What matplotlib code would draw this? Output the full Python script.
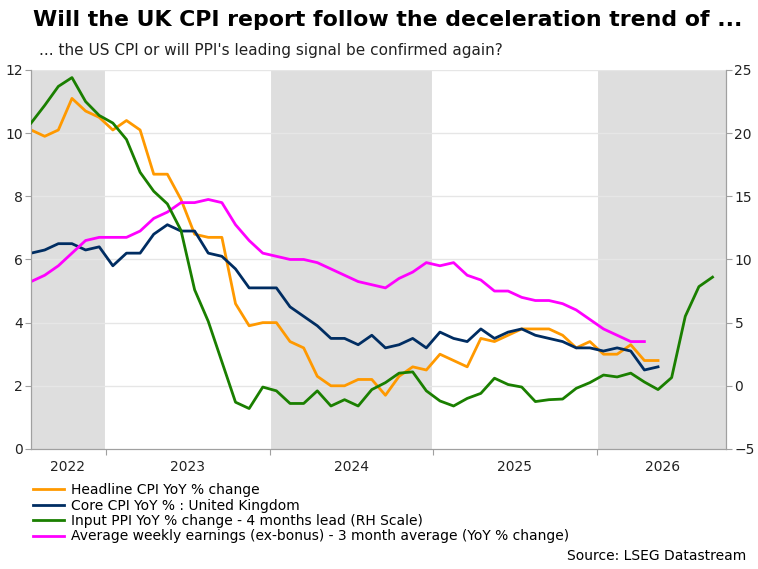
import matplotlib
matplotlib.use("Agg")
import matplotlib.pyplot as plt
from matplotlib.lines import Line2D

headline = [10.1, 9.9, 10.1, 11.1, 10.7, 10.5, 10.1, 10.4, 10.1, 8.7, 8.7, 7.9, 6.8, 6.7, 6.7, 4.6, 3.9, 4.0, 4.0, 3.4, 3.2, 2.3, 2.0, 2.0, 2.2, 2.2,
            1.7, 2.3, 2.6, 2.5, 3.0, 2.8, 2.6, 3.5, 3.4, 3.6, 3.8, 3.8, 3.8, 3.6, 3.2, 3.4, 3.0, 3.0, 3.3, 2.8, 2.8]
core = [6.2, 6.3, 6.5, 6.5, 6.3, 6.4, 5.8, 6.2, 6.2, 6.8, 7.1, 6.9, 6.9, 6.2, 6.1, 5.7, 5.1, 5.1, 5.1, 4.5, 4.2, 3.9, 3.5, 3.5, 3.3, 3.6,
        3.2, 3.3, 3.5, 3.2, 3.7, 3.5, 3.4, 3.8, 3.5, 3.7, 3.8, 3.6, 3.5, 3.4, 3.2, 3.2, 3.1, 3.2, 3.1, 2.5, 2.6]
ppi = [20.8, 22.2, 23.7, 24.4, 22.5, 21.4, 20.8, 19.5, 16.9, 15.4, 14.4, 12.3, 7.6, 5.1, 1.9, -1.3, -1.8, -0.1, -0.4, -1.4, -1.4, -0.4, -1.6, -1.1, -1.6, -0.3,
       0.25, 1.0, 1.1, -0.4, -1.2, -1.6, -1.0, -0.6, 0.6, 0.1, -0.1, -1.25, -1.1, -1.05, -0.2, 0.25, 0.85, 0.7, 1.0, 0.3, -0.3, 0.65, 5.5, 7.85, 8.6]
awe = [5.3, 5.5, 5.8, 6.2, 6.6, 6.7, 6.7, 6.7, 6.9, 7.3, 7.5, 7.8, 7.8, 7.9, 7.8, 7.1, 6.6, 6.2, 6.1, 6.0, 6.0, 5.9, 5.7, 5.5, 5.3, 5.2,
       5.1, 5.4, 5.6, 5.9, 5.8, 5.9, 5.5, 5.35, 5.0, 5.0, 4.8, 4.7, 4.7, 4.6, 4.4, 4.1, 3.8, 3.6, 3.4, 3.4]
years = ["2022", "2023", "2024", "2025", "2026"]
labels = ["Headline CPI YoY % change", "Core CPI YoY % : United Kingdom",
          "Input PPI YoY % change - 4 months lead (RH Scale)",
          "Average weekly earnings (ex-bonus) - 3 month average (YoY % change)"]
colors = ["#FF9900", "#002D62", "#1A7F00", "#FF00FF"]

fig = plt.figure(figsize=(7.58, 5.69), dpi=100)
ax = fig.add_axes([0.041, 0.211, 0.917, 0.666])
ax2 = ax.twinx()
xmax = 51
bounds = [-0.5, 5.5, 17.5, 29.5, 41.5, 53.5]
for k in (0, 2, 4):
    ax.axvspan(bounds[k], bounds[k + 1], color="#DEDEDE", lw=0, zorder=0)
for b in bounds[1:5]:
    ax.axvline(b, color="white", lw=1.5, zorder=0.5)
ax.set_ylim(0, 12)
ax2.set_ylim(-5, 25)
ax.set_xlim(0, xmax)
ax.set_yticks(range(0, 13, 2))
ax2.set_yticks(range(-5, 26, 5))
for y in range(2, 13, 2):
    ax.axhline(y, color="#E6E6E6", lw=1, zorder=0.6)

ax.plot(range(len(headline)), headline, color=colors[0], lw=2, zorder=3)
ax.plot(range(len(core)), core, color=colors[1], lw=2, zorder=3)
ax.plot(range(len(awe)), awe, color=colors[3], lw=2, zorder=3)
ax2.plot(range(len(ppi)), ppi, color=colors[2], lw=2, zorder=3)

ax.set_xticks(bounds[1:5])
ax.set_xticklabels([])
mids = [2.65, 11.5, 23.5, 35.5, 46.3]
for m, yr in zip(mids, years):
    ax.text(m, -0.35, yr, ha="center", va="top", fontsize=10, color="#222222")
for a in (ax, ax2):
    for s in a.spines.values():
        s.set_color("#A0A0A0")
    a.spines["top"].set_visible(False)
    a.tick_params(colors="#A0A0A0", labelcolor="#222222", labelsize=10, length=4, pad=2)
ax2.patch.set_visible(False)

fig.text(0.043, 0.965, "Will the UK CPI report follow the deceleration trend of ...",
         fontsize=15.8, fontweight="bold", ha="left", va="center")
fig.text(0.052, 0.912, "... the US CPI or will PPI's leading signal be confirmed again?",
         fontsize=11, ha="left", va="center", color="#222222")
handles = [Line2D([0], [0], color=c, lw=2) for c in colors]
fig.legend(handles, labels, loc="upper left", bbox_to_anchor=(0.035, 0.163), frameon=False,
           fontsize=10, handlelength=2.2, labelspacing=0.1, borderpad=0, handletextpad=0.5)
fig.text(0.985, 0.01, "Source: LSEG Datastream", ha="right", va="bottom", fontsize=10)
fig.savefig("out.png", dpi=100)
